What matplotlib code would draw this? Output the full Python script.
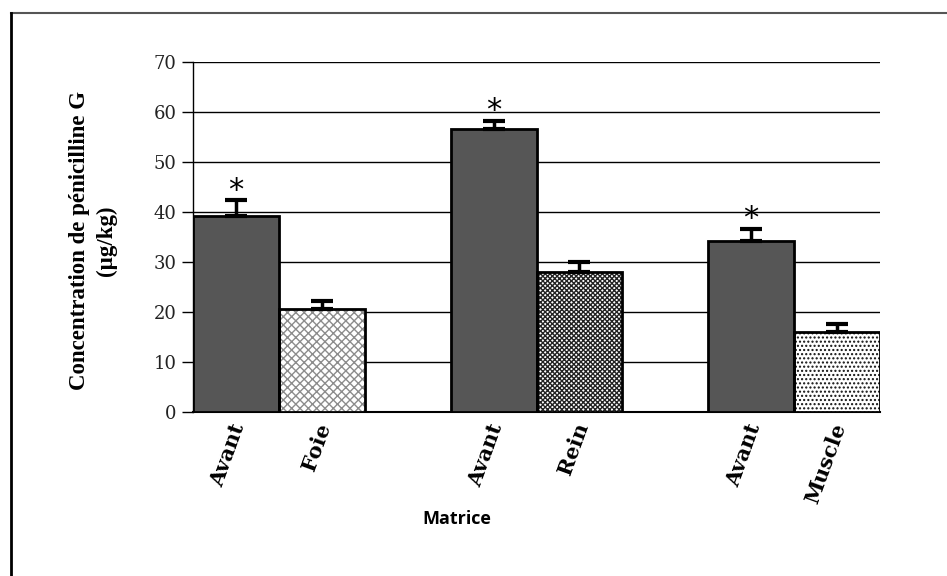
import matplotlib.pyplot as plt
import matplotlib.transforms as mtransforms
from matplotlib.lines import Line2D

# bar data (µg/kg)
labels = ["Avant", "Foie", "Avant", "Rein", "Avant", "Muscle"]
values = [39.2, 20.6, 56.6, 28.0, 34.3, 16.0]
errors = [3.1, 1.7, 1.7, 2.0, 2.4, 1.7]
signif = [True, False, True, False, True, False]
positions = [0, 1, 3, 4, 6, 7]

fills = ["#565656", "white", "#565656", "white", "#565656", "white"]
hatches = [None, "xxxx", None, "xxxxxxx", None, "...."]
hatch_cols = ["#565656", "#8c8c8c", "#565656", "#222222", "#565656", "#111111"]

fig = plt.figure(figsize=(9.47, 5.76), dpi=100)
ax = fig.add_axes([193 / 947, 1 - 412 / 576, 687 / 947, 350 / 576])

for x, v, fc, h, hc in zip(positions, values, fills, hatches, hatch_cols):
    ax.bar(x, v, width=1.0, color=fc, hatch=h, edgecolor=hc, linewidth=0, zorder=3)
    ax.bar(x, v, width=1.0, fill=False, edgecolor="black", linewidth=2, zorder=4)

# upper error bars only
ax.errorbar(positions, values, yerr=[[0] * len(errors), errors], fmt="none",
            ecolor="black", elinewidth=2.5, capsize=8, capthick=3, zorder=5)

for x, v, e, s in zip(positions, values, errors, signif):
    if s:
        ax.text(x, v + e - 0.9, "*", ha="center", va="bottom", fontsize=22,
                family="DejaVu Sans", zorder=6)

ax.set_xlim(-0.5, 7.5)
ax.set_ylim(0, 70)
ax.set_yticks(range(0, 71, 10))
ax.yaxis.grid(True, color="black", linewidth=1)
ax.set_axisbelow(True)
for side in ["top", "right"]:
    ax.spines[side].set_visible(False)
ax.spines["left"].set_linewidth(1)
ax.spines["bottom"].set_linewidth(1.5)

ax.tick_params(axis="y", length=8, width=1, direction="out", pad=4,
               labelsize=13, labelcolor="#222222")
for t in ax.get_yticklabels():
    t.set_family("DejaVu Serif")
ax.tick_params(axis="x", length=0, pad=6)
ax.set_xticks(positions)
ax.set_xticklabels(labels, rotation=70, ha="right", rotation_mode="anchor",
                   fontsize=15, fontweight="bold", family="DejaVu Serif")
shift = mtransforms.ScaledTranslation(-6 / 100, 0, fig.dpi_scale_trans)
for t in ax.get_xticklabels():
    t.set_transform(t.get_transform() + shift)

ax.set_ylabel("Concentration de pénicilline G\n(µg/kg)", fontsize=16.5,
              fontweight="bold", family="Liberation Serif", linespacing=1.35)
ax.yaxis.set_label_coords(-0.111, 0.49)
fig.text(457 / 947, 1 - 519 / 576, "Matrice", ha="center", va="center",
         fontsize=13, fontweight="bold", family="Open Sans")

# outer frame lines
fig.add_artist(Line2D([11 / 947, 1], [1 - 13 / 576] * 2, color="#555555", lw=1.5))
fig.add_artist(Line2D([11 / 947] * 2, [0, 1 - 13 / 576], color="black", lw=2))

fig.savefig("out.png", dpi=100)
